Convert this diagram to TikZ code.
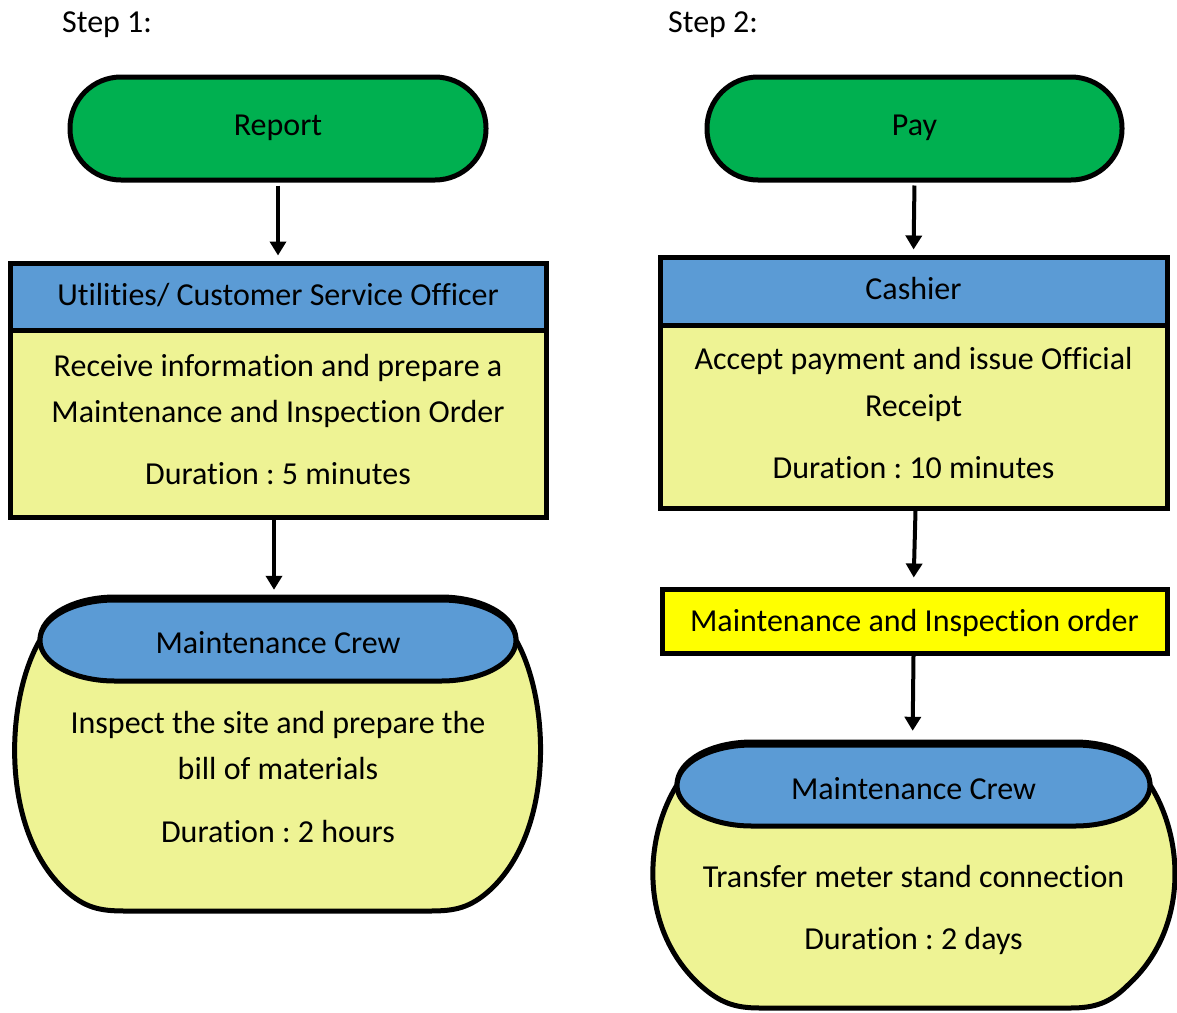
\documentclass[tikz,border=0pt]{standalone}
\usepackage{fontspec}
\setmainfont{Carlito}[Ligatures=CommonOff]
\usetikzlibrary{arrows.meta}
\definecolor{termgreen}{RGB}{0,176,80}
\definecolor{hdrblue}{RGB}{91,155,213}
\definecolor{bodyyellow}{RGB}{238,243,148}
\definecolor{brightyellow}{RGB}{255,255,0}
\frenchspacing
\begin{document}
\begin{tikzpicture}[x=1pt,y=-1pt,
  terminal/.style={draw, line width=5pt, fill=termgreen, rounded corners=51pt, minimum width=416pt, minimum height=103pt, inner sep=0pt},
  hdr/.style={draw, line width=5pt, fill=hdrblue, inner sep=0pt},
  bodybox/.style={draw, line width=5pt, fill=bodyyellow, inner sep=0pt},
  orderbox/.style={draw, line width=5pt, fill=brightyellow, inner sep=0pt},
  stadiumfill/.style={draw, line width=5pt, fill=hdrblue, line join=round},
  anchorbox/.style={inner sep=0pt, minimum height=81pt},
  barrel/.style={draw, line width=5pt, fill=bodyyellow, line join=round},
  txt/.style={anchor=base, inner sep=0pt, font=\fontsize{32}{38}\selectfont},
  flow/.style={-{Triangle[width=16pt,length=14pt]}, line width=4pt}
]
\useasboundingbox (0,0) rectangle (1177,1012);

% ---------- Step 1 ----------
\node[txt, anchor=base west] (step1) at (62,32) {Step 1:};
\node[terminal] (report) at (278,128.5) {};
\node[txt] (reportt) at (278,135) {Report};

\node[hdr, minimum width=536pt, minimum height=67pt] (cso) at (278,296.5) {};
\node[bodybox, minimum width=536pt, minimum height=187pt] (csobody) at (278,423.5) {};
\node[txt] (csot) at (278,305) {Utilities/ Customer Service Officer};
\node[txt] (csob1) at (278,376) {Receive information and prepare a};
\node[txt] (csob2) at (278,422) {Maintenance and Inspection Order};
\node[txt] (csob3) at (278,484) {Duration : 5 minutes};

\draw[barrel] (40,640) .. controls (40,615) and (75,597) .. (115,597) -- (441,597)
  .. controls (481,597) and (516,615) .. (516,640)
  .. controls (550,700) and (555,830) .. (490,890)
  .. controls (470,908) and (455,911) .. (430,911) -- (125,911)
  .. controls (100,911) and (85,908) .. (65,890)
  .. controls (0,830) and (5,700) .. (40,640) -- cycle;
\draw[stadiumfill] (115,600) -- (441,600) .. controls (482.4,600) and (516,618.1) .. (516,640.5)
  .. controls (516,662.9) and (482.4,681) .. (441,681) -- (115,681)
  .. controls (73.6,681) and (40,662.9) .. (40,640.5)
  .. controls (40,618.1) and (73.6,600) .. (115,600) -- cycle;
\node[anchorbox, minimum width=476pt] (crew1top) at (278,640.5) {};
\node[txt] (crew1t) at (278,653) {Maintenance Crew};
\node[txt] (crew1b1) at (278,733) {Inspect the site and prepare the};
\node[txt] (crew1b2) at (278,779) {bill of materials};
\node[txt] (crew1b3) at (278,842) {Duration : 2 hours};

\draw[flow, shorten <=3pt, shorten >=5pt] (report.south) -- (cso.north);
\draw[flow, shorten <=0pt, shorten >=10pt] ([xshift=-4pt]csobody.south) -- ([xshift=-4pt]crew1top.north);

% ---------- Step 2 ----------
\node[txt, anchor=base west] (step2) at (668,32) {Step 2:};
\node[terminal, minimum width=415pt] (pay) at (914.5,128.5) {};
\node[txt] (payt) at (914.5,135) {Pay};

\node[hdr, minimum width=507pt, minimum height=68pt] (cashier) at (913.5,291) {};
\node[bodybox, minimum width=507pt, minimum height=183pt] (cashbody) at (913.5,416.5) {};
\node[txt] (casht) at (913.5,299) {Cashier};
\node[txt] (cashb1) at (913.5,369) {Accept payment and issue Official};
\node[txt] (cashb2) at (913.5,416) {Receipt};
\node[txt] (cashb3) at (913.5,478) {Duration : 10 minutes};

\node[orderbox, minimum width=505pt, minimum height=64pt] (mio) at (914.5,621) {};
\node[txt] (miot) at (914.5,631) {Maintenance and Inspection order};

\draw[barrel] (677,785) .. controls (677,760) and (712,742) .. (752,742) -- (1075,742)
  .. controls (1115,742) and (1150,760) .. (1150,785)
  .. controls (1185,840) and (1188,930) .. (1128,985)
  .. controls (1110,1003) and (1095,1008) .. (1070,1008) -- (760,1008)
  .. controls (735,1008) and (720,1003) .. (700,985)
  .. controls (640,930) and (643,840) .. (677,785) -- cycle;
\draw[stadiumfill] (752,745) -- (1075,745) .. controls (1116.4,745) and (1150,763.1) .. (1150,785.5)
  .. controls (1150,807.9) and (1116.4,826) .. (1075,826) -- (752,826)
  .. controls (710.6,826) and (677,807.9) .. (677,785.5)
  .. controls (677,763.1) and (710.6,745) .. (752,745) -- cycle;
\node[anchorbox, minimum width=473pt] (crew2top) at (913.5,785.5) {};
\node[txt] (crew2t) at (913.5,799) {Maintenance Crew};
\node[txt] (crew2b1) at (913.5,887) {Transfer meter stand connection};
\node[txt] (crew2b2) at (913.5,949) {Duration : 2 days};

\draw[flow, shorten <=3pt, shorten >=5pt] (pay.south) -- (cashier.north);
\draw[flow, shorten <=0pt, shorten >=9pt] ([xshift=2pt]cashbody.south) -- ([xshift=-1pt]mio.north);
\draw[flow, shorten <=0pt, shorten >=14pt] ([xshift=-1pt]mio.south) -- ([xshift=-1pt]crew2top.north);
\end{tikzpicture}
\end{document}
